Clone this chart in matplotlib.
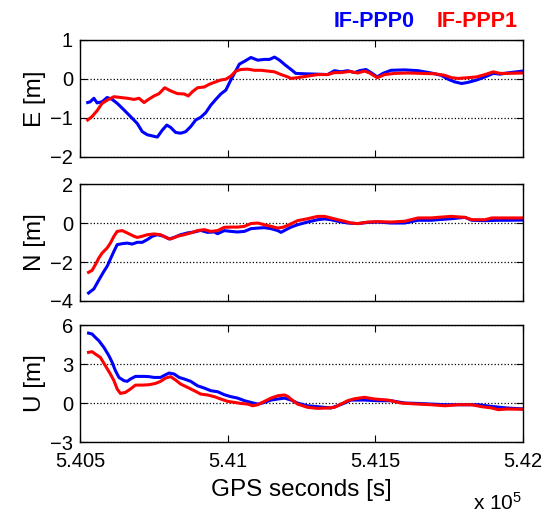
import matplotlib
matplotlib.use('Agg')
import matplotlib.pyplot as plt

# IF-PPP0 (blue) / IF-PPP1 (red) position errors, GPS seconds vs metres
t_e0 = [540526, 540535, 540547, 540558, 540575, 540592, 540609, 540626, 540649, 540671,
        540694, 540711, 540728, 540745, 540762, 540779, 540794, 540807, 540824, 540841,
        540858, 540875, 540892, 540909, 540926, 540943, 540960, 540977, 540994, 541011,
        541023, 541040, 541057, 541079, 541102, 541125, 541142, 541159, 541176, 541193,
        541215, 541231, 541260, 541305, 541339, 541362, 541384, 541407, 541430, 541447,
        541469, 541486, 541507, 541526, 541554, 541600, 541645, 541690, 541724, 541747,
        541770, 541793, 541815, 541844, 541872, 541900, 541923, 541946, 542000]
e0 = [-0.61, -0.59, -0.50, -0.62, -0.59, -0.48, -0.53, -0.63, -0.80, -0.97,
      -1.15, -1.36, -1.44, -1.47, -1.50, -1.32, -1.19, -1.25, -1.38, -1.40,
      -1.36, -1.23, -1.06, -0.99, -0.87, -0.68, -0.53, -0.39, -0.29, -0.03,
      0.14, 0.38, 0.45, 0.55, 0.48, 0.50, 0.50, 0.56, 0.48, 0.37,
      0.24, 0.14, 0.13, 0.12, 0.11, 0.21, 0.18, 0.21, 0.16, 0.21,
      0.24, 0.16, 0.05, 0.14, 0.22, 0.23, 0.21, 0.15, 0.09, -0.01,
      -0.08, -0.12, -0.09, -0.03, 0.05, 0.14, 0.12, 0.15, 0.20]

t_e1 = [540526, 540541, 540558, 540575, 540592, 540615, 540637, 540660, 540683, 540700,
        540717, 540734, 540751, 540768, 540787, 540807, 540830, 540853, 540867, 540881,
        540898, 540921, 540938, 540955, 540977, 540994, 541011, 541028, 541045, 541068,
        541091, 541113, 541136, 541159, 541181, 541204, 541214, 541237, 541271, 541305,
        541339, 541362, 541384, 541413, 541441, 541464, 541481, 541507, 541532, 541566,
        541611, 541656, 541702, 541736, 541758, 541781, 541815, 541844, 541872, 541900,
        541923, 541946, 542000]
e1 = [-1.06, -0.97, -0.82, -0.63, -0.55, -0.46, -0.48, -0.50, -0.53, -0.50,
      -0.61, -0.52, -0.44, -0.38, -0.23, -0.31, -0.38, -0.39, -0.44, -0.33,
      -0.23, -0.21, -0.14, -0.09, -0.03, -0.01, 0.07, 0.20, 0.24, 0.25,
      0.22, 0.22, 0.20, 0.18, 0.11, 0.05, 0.01, 0.03, 0.07, 0.11,
      0.11, 0.16, 0.16, 0.19, 0.15, 0.20, 0.15, 0.03, 0.11, 0.14,
      0.15, 0.14, 0.13, 0.09, 0.03, 0.01, 0.03, 0.05, 0.11, 0.18,
      0.14, 0.14, 0.15]

t_n0 = [540529, 540547, 540558, 540569, 540581, 540592, 540603, 540615, 540626, 540643,
        540660, 540677, 540694, 540711, 540728, 540745, 540762, 540785, 540802, 540819,
        540841, 540864, 540887, 540909, 540932, 540955, 540966, 540989, 541011, 541034,
        541057, 541079, 541102, 541125, 541147, 541170, 541181, 541198, 541215, 541237,
        541271, 541305, 541328, 541350, 541373, 541407, 541441, 541475, 541509, 541554,
        541600, 541645, 541690, 541713, 541758, 541804, 541827, 541872, 541917, 541946,
        542000]
n0 = [-3.59, -3.38, -3.08, -2.79, -2.48, -2.22, -1.85, -1.45, -1.11, -1.06,
      -1.03, -1.08, -0.99, -0.99, -0.85, -0.68, -0.60, -0.68, -0.82, -0.74,
      -0.60, -0.51, -0.46, -0.38, -0.48, -0.46, -0.55, -0.39, -0.43, -0.46,
      -0.43, -0.29, -0.26, -0.24, -0.29, -0.39, -0.48, -0.34, -0.21, -0.09,
      0.05, 0.17, 0.21, 0.17, 0.09, 0.0, -0.03, 0.03, 0.05, 0.0,
      0.0, 0.14, 0.14, 0.17, 0.22, 0.29, 0.14, 0.12, 0.14, 0.14,
      0.15]

t_n1 = [540529, 540541, 540552, 540564, 540575, 540592, 540603, 540615, 540626, 540643,
        540660, 540683, 540694, 540711, 540728, 540751, 540773, 540790, 540807, 540830,
        540853, 540875, 540898, 540921, 540943, 540966, 540989, 541011, 541034, 541057,
        541079, 541102, 541125, 541147, 541170, 541187, 541204, 541237, 541271, 541305,
        541328, 541350, 541373, 541396, 541418, 541441, 541475, 541509, 541554, 541600,
        541645, 541690, 541713, 541758, 541804, 541827, 541872, 541895, 541946, 542000]
n1 = [-2.53, -2.43, -2.14, -1.79, -1.54, -1.28, -1.03, -0.68, -0.43, -0.39,
      -0.51, -0.68, -0.74, -0.68, -0.60, -0.56, -0.60, -0.74, -0.82, -0.68,
      -0.60, -0.51, -0.39, -0.34, -0.43, -0.39, -0.22, -0.21, -0.21, -0.17,
      -0.03, 0.0, -0.09, -0.17, -0.26, -0.22, -0.12, 0.12, 0.22, 0.34,
      0.34, 0.26, 0.17, 0.09, 0.0, -0.03, 0.05, 0.07, 0.05, 0.09,
      0.26, 0.26, 0.29, 0.34, 0.29, 0.17, 0.17, 0.26, 0.26, 0.26]

t_u0 = [540529, 540541, 540552, 540564, 540581, 540598, 540609, 540620, 540632, 540649,
        540660, 540671, 540688, 540717, 540734, 540751, 540773, 540790, 540802, 540819,
        540836, 540853, 540875, 540898, 540921, 540943, 540966, 540989, 541011, 541034,
        541057, 541079, 541102, 541125, 541147, 541170, 541193, 541215, 541237, 541271,
        541305, 541350, 541373, 541396, 541418, 541464, 541509, 541554, 541600, 541645,
        541690, 541736, 541781, 541827, 541849, 541895, 541946, 542000]
u0 = [5.38, 5.31, 5.05, 4.79, 4.28, 3.64, 3.13, 2.49, 1.97, 1.72,
      1.67, 1.85, 2.05, 2.05, 2.03, 1.97, 1.97, 2.18, 2.31, 2.23,
      1.97, 1.85, 1.67, 1.33, 1.15, 0.95, 0.87, 0.64, 0.49, 0.38,
      0.18, 0.05, -0.08, 0.05, 0.23, 0.31, 0.38, 0.23, 0.0, -0.21,
      -0.28, -0.38, -0.21, 0.0, 0.23, 0.23, 0.18, 0.18, 0.0, -0.03,
      -0.08, -0.13, -0.13, -0.13, -0.13, -0.26, -0.38, -0.45]

t_u1 = [540529, 540541, 540552, 540569, 540586, 540603, 540615, 540626, 540637, 540654,
        540671, 540688, 540711, 540734, 540756, 540773, 540790, 540807, 540824, 540841,
        540864, 540887, 540909, 540932, 540955, 540977, 541000, 541023, 541045, 541068,
        541085, 541102, 541125, 541147, 541170, 541193, 541204, 541214, 541237, 541271,
        541305, 541339, 541362, 541384, 541407, 541430, 541464, 541498, 541543, 541588,
        541645, 541690, 541736, 541781, 541827, 541861, 541895, 541917, 541946, 542000]
u1 = [3.90, 3.95, 3.77, 3.51, 2.87, 2.23, 1.72, 1.08, 0.74, 0.82,
      1.08, 1.38, 1.38, 1.41, 1.51, 1.67, 1.92, 2.03, 1.77, 1.46,
      1.21, 0.95, 0.69, 0.62, 0.49, 0.31, 0.13, 0.05, -0.03, -0.08,
      -0.21, -0.13, 0.13, 0.38, 0.56, 0.62, 0.51, 0.31, -0.08, -0.33,
      -0.41, -0.38, -0.33, -0.08, 0.18, 0.33, 0.44, 0.31, 0.23, 0.0,
      -0.08, -0.13, -0.21, -0.13, -0.13, -0.28, -0.38, -0.51, -0.46, -0.48]

x_ticks = [540500, 541000, 541500, 542000]
x_tick_labels = ['5.405', '5.41', '5.415', '5.42']
panel_labels = ['E [m]', 'N [m]', 'U [m]']
y_ticks = [[-2, -1, 0, 1], [-4, -2, 0, 2], [-3, 0, 3, 6]]
series_names = ['IF-PPP0', 'IF-PPP1']

plt.rcParams['font.family'] = ['Liberation Sans', 'DejaVu Sans']
plt.rcParams['mathtext.default'] = 'regular'

fig = plt.figure(figsize=(5.46, 5.14), dpi=100)
boxes = [[0.1465, 0.6955, 0.811, 0.2267],
         [0.1465, 0.4144, 0.811, 0.2276],
         [0.1465, 0.1400, 0.811, 0.2276]]
data = [(t_e0, e0, t_e1, e1), (t_n0, n0, t_n1, n1), (t_u0, u0, t_u1, u1)]

for i, box in enumerate(boxes):
    ax = fig.add_axes(box)
    ta, a, tb, b = data[i]
    ax.plot(ta, a, color='#0000ff', lw=2.2)
    ax.plot(tb, b, color='#ff0000', lw=2.2)
    ax.set_xlim(x_ticks[0], x_ticks[-1])
    ax.set_ylim(y_ticks[i][0], y_ticks[i][-1])
    ax.set_yticks(y_ticks[i])
    ax.set_xticks(x_ticks)
    if i == 2:
        ax.set_xticklabels(x_tick_labels)
        ax.set_xlabel('GPS seconds [s]', fontsize=17.5, labelpad=6)
    else:
        ax.set_xticklabels([])
    ax.set_ylabel(panel_labels[i], fontsize=17.5, labelpad=3)
    ax.tick_params(direction='in', length=5, width=0.8, top=True, right=True,
                   labelsize=14.5, pad=5)
    ax.tick_params(axis='x', pad=7)
    ax.grid(axis='y', linestyle=':', color='black', linewidth=0.9)
    for s in ax.spines.values():
        s.set_linewidth(1.0)

fig.text(334 / 546, 0.959, series_names[0], color='#0000ff', fontsize=15.5,
         fontweight='bold', ha='left', va='center')
fig.text(437 / 546, 0.959, series_names[1], color='#ff0000', fontsize=15.5,
         fontweight='bold', ha='left', va='center')
fig.text(0.957, 0.008, r'x 10$^{5}$', fontsize=15, ha='right', va='baseline')

fig.savefig('out.png', dpi=100)
